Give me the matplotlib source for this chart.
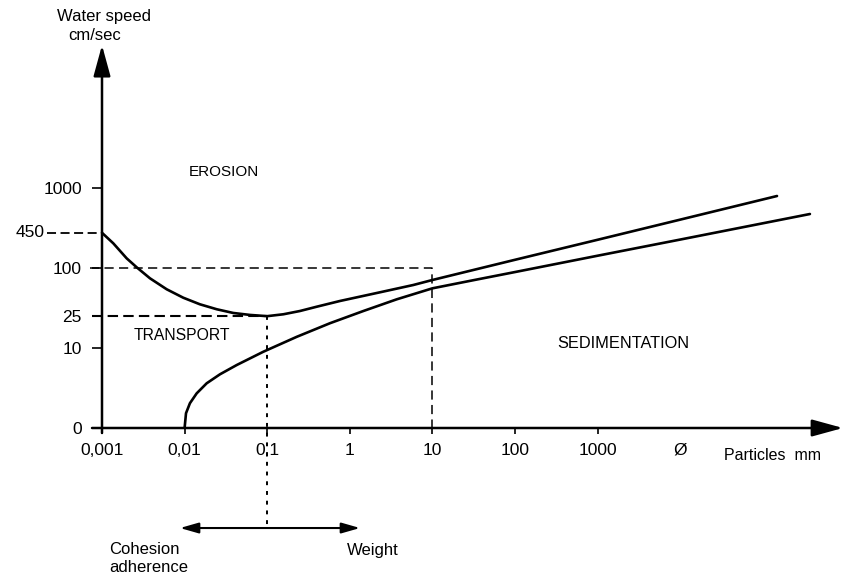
import numpy as np
import matplotlib
matplotlib.use("Agg")
import matplotlib.pyplot as plt

plt.rcParams["font.family"] = ["Liberation Sans", "DejaVu Sans"]

# Particle diameter (mm) against threshold water speed (cm/s)
erosion_d = [0.001, 0.00137, 0.00199, 0.00263, 0.00381, 0.00607, 0.00964,
             0.0153, 0.0245, 0.0389, 0.0619, 0.1, 0.157, 0.249, 0.397,
             0.76, 2.32, 5.87, 10, 100, 1000, 10000, 148600]
erosion_v = [450, 287, 151, 103, 74.3, 54.2, 42.5, 35.2, 30.5, 27.4, 25.9,
             25, 26.4, 29.0, 32.8, 38.7, 49.7, 61.3, 70.8, 142, 334, 569,
             867]

sediment_d = [0.01, 0.0104, 0.0116, 0.0140, 0.0185, 0.0268, 0.0428, 0.09,
              0.228, 0.575, 1.46, 3.70, 10, 31.6, 100, 1000, 10000, 372000]
sediment_v = [1, 1.53, 2.04, 2.71, 3.62, 4.69, 6.13, 8.99, 13.8, 20.4,
              29.0, 40.6, 55.7, 70.5, 89, 169, 337, 629]

# Axis ticks
x_ticks = [0.001, 0.01, 0.1, 1, 10, 100, 1000, 10000]
x_labels = ["0,001", "0,01", "0,1", "1", "10", "100", "1000", "Ø"]
y_ticks = [1, 10, 25, 100, 1000]
y_labels = ["0", "10", "25", "100", "1000"]

# Guide values
v_start = 450      # erosion speed of the finest particles
v_mark = 100       # speed guide
v_min = 25         # minimum erosion speed
d_min = 0.1        # diameter at minimum erosion speed
d_mark = 10        # diameter guide

# Schematic speed axis: logarithmic, with the 450 mark squeezed toward 100
KNOT_LOG = np.array([-8.0, 2.0, np.log10(450), 3.0, 9.0])
KNOT_POS = np.array([-8.0, 2.0, 2.44, 3.0, 9.0])


def fwd(v):
    v = np.asarray(v, dtype=float)
    return np.interp(np.log10(np.clip(v, 1e-12, None)), KNOT_LOG, KNOT_POS)


def inv(p):
    return 10 ** np.interp(np.asarray(p, dtype=float), KNOT_POS, KNOT_LOG)


W, H = 845, 577
fig = plt.figure(figsize=(W / 100, H / 100), dpi=100)
ax = fig.add_axes([0, 0, 1, 1])
ax.set_xscale("log")
ax.set_yscale("function", functions=(fwd, inv))
ax.set_xlim(10 ** (-3 - 102 / 82.6), 10 ** (-3 + 743 / 82.6))
ax.set_ylim(inv(-(H - 428) / 80), inv(428 / 80))

for s in ax.spines.values():
    s.set_visible(False)
ax.spines["left"].set_position(("data", 0.001))
ax.spines["bottom"].set_position(("data", 1))

ax.set_xticks(x_ticks)
ax.set_xticklabels(x_labels)
ax.xaxis.set_minor_locator(matplotlib.ticker.NullLocator())
ax.set_yticks(y_ticks)
ax.set_yticklabels(y_labels)
ax.yaxis.set_minor_locator(matplotlib.ticker.NullLocator())
ax.tick_params(axis="x", direction="out", length=4.5, width=1.2, pad=6,
               labelsize=12.5)
ax.tick_params(axis="y", direction="out", length=7.5, width=1.2, pad=7,
               labelsize=12.5)
ax.xaxis.get_major_ticks()[-1].tick1line.set_visible(False)
ax.yaxis.get_major_ticks()[2].tick1line.set_visible(False)

# Axes with arrowheads
arrow = dict(arrowstyle="-|>,head_length=0.95,head_width=0.26", lw=1.8,
             color="black", shrinkA=0, shrinkB=0, mutation_scale=20)
ax.annotate("", xy=(0.001, 6.1e4), xytext=(0.001, 0.866), arrowprops=arrow)
ax.annotate("", xy=(9.35e5, 1), xytext=(7.57e-4, 1), arrowprops=arrow)

# Threshold curves
ax.plot(erosion_d, erosion_v, color="black", lw=1.9,
        solid_capstyle="round", solid_joinstyle="round")
ax.plot(sediment_d, sediment_v, color="black", lw=1.9,
        solid_capstyle="round", solid_joinstyle="round")

# Dashed guides
ax.plot([2.16e-4, 0.001], [v_start, v_start], color="black", lw=1.3,
        dashes=(5, 2.5))
ax.plot([7.16e-4, d_mark, d_mark], [v_mark, v_mark, 1], color="black",
        lw=1.1, dashes=(6, 3.5))
ax.plot([7.57e-4, d_min], [v_min, v_min], color="black", lw=1.5,
        dashes=(5, 2.5))
ax.plot([d_min, d_min], [v_min, 0.0562], color="black", lw=1.4,
        dashes=(2, 3))

# Cohesion / weight arrow
ax.annotate("", xy=(1.33, 0.0562), xytext=(0.00879, 0.0562),
            arrowprops=dict(arrowstyle="<|-|>,head_length=0.7,head_width=0.2",
                            lw=1.5, color="black", shrinkA=0, shrinkB=0,
                            mutation_scale=16))


def ftext(px, py, s, ha="center", size=11, **kw):
    fig.text(px / W, 1 - py / H, s, ha=ha, va="center", fontsize=size, **kw)


ftext(30, 233, "450", size=12.5)
ftext(104, 16, "Water speed", size=12)
ftext(95, 35, "cm/sec", size=12)
ftext(224, 172, "EROSION", size=11)
ftext(182, 336, "TRANSPORT", size=11.3)
ftext(623, 344, "SEDIMENTATION", size=11.8)
ftext(724, 456, "Particles  mm", ha="left", size=11.5)
ftext(109, 550, "Cohesion", ha="left", size=12)
ftext(109, 568, "adherence", ha="left", size=12)
ftext(347, 550, "Weight", ha="left", size=12)

fig.savefig("out.png", dpi=100)
